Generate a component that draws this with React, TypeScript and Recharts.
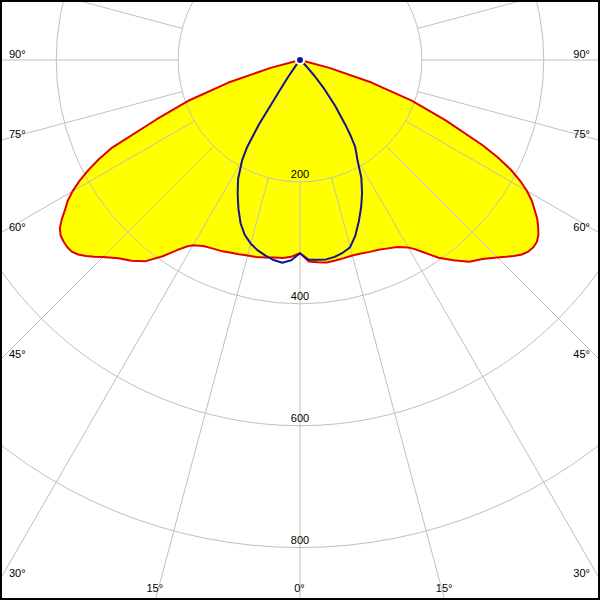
import React from 'react';
import { RadarChart, Radar, PolarGrid, PolarAngleAxis, PolarRadiusAxis } from 'recharts';

// gamma in degrees: 0 = straight down, negative = left half, positive = right half
const angles = [
  -180, -90, -80, -77.5, -75, -72.5, -70, -67.5, -65,
  -63.75, -62.5, -61.25, -60, -58.75, -57.5, -56.25, -55, -53.75, -52.5, -51.25, -50, -48.75, -47.5, -46.25, -45,
  -42.5, -40, -37.5, -35,
  -33.75, -32.5, -31.25, -30,
  -27.5, -25, -22.5, -20, -17.5, -15, -12.5, -10, -7.5, -5, -2.5,
  0,
  2.5, 5, 7.5, 10, 12.5, 15, 17.5, 20, 22.5, 25, 27.5,
  30, 31.25, 32.5, 33.75,
  35, 37.5, 40, 42.5,
  45, 46.25, 47.5, 48.75, 50, 51.25, 52.5, 53.75, 55, 56.25, 57.5, 58.75, 60, 61.25, 62.5, 63.75,
  65, 67.5, 70, 72.5, 75, 77.5, 80, 90, 180,
];

// C0-C180 plane (red outline, yellow fill), cd/klm
const planeC0 = [
  0, 0, 0, 0, 50, 123, 193, 255, 340,
  368, 392, 413, 431, 446, 457, 470, 481, 487, 489, 490, 489, 484, 476, 467, 457,
  441, 430, 416, 393,
  380, 368, 358, 351,
  344, 341, 339, 336, 334, 332, 331, 329, 327, 326, 323,
  317,
  331, 333, 335, 334, 333, 332, 333, 335, 337, 341, 346,
  355, 363, 373, 384,
  396, 414, 432, 443,
  458, 467, 476, 484, 489, 491, 490, 485, 477, 468, 456, 445, 430, 412, 390, 362,
  330, 258, 195, 123, 50, 0, 0, 0, 0,
];

// C90-C270 plane (blue outline), cd/klm
const planeC90 = [
  0, 0, 0, 0, 0, 0, 0, 0, 0,
  0, 0, 0, 0, 0, 0, 0, 0, 0, 0, 0, 0, 0, 0, 0, 0,
  0, 0, 10, 35,
  60, 125, 168, 190,
  220, 242, 264, 285, 301, 312, 320, 326, 331, 334, 329,
  317,
  328, 329, 330, 328, 324, 318, 302, 282, 262, 241, 218,
  188, 178, 168, 150,
  130, 95, 62, 35,
  15, 10, 5, 2, 0, 0, 0, 0, 0, 0, 0, 0, 0, 0, 0, 0,
  0, 0, 0, 0, 0, 0, 0, 0, 0,
];

const radiusTicks = [200, 400, 600, 800];
const angleTicks = [
  -180, -165, -150, -135, -120, -105, -90, -75, -60, -45, -30, -15,
  0, 15, 30, 45, 60, 75, 90, 105, 120, 135, 150, 165,
];

const rows = angles.map((angle, i) => ({ angle, c0: planeC0[i], c90: planeC90[i] }));

const W = 600;
const H = 600;
const CX = 300;
const CY = 60;
const MAX_CD = 1000;
const OUTER = 609.5;
const R200 = (OUTER * 200) / MAX_CD;
const FONT = "'Liberation Sans', Arial, sans-serif";
const GRID = '#c0c0c0';
const noMargin = { top: 0, right: 0, bottom: 0, left: 0 };
const labelStyle: React.CSSProperties = { fill: '#000', stroke: 'none', fontSize: 11, fontFamily: FONT };

// angle labels sit where each spoke leaves the picture
const AngleLabel = (props: any) => {
  const { payload } = props;
  const gamma = payload.value;
  if (Math.abs(gamma) > 90) return <g />;
  const deg = typeof payload.coordinate === 'number' ? payload.coordinate : gamma - 90;
  const a = (deg * Math.PI) / 180;
  const dx = Math.cos(a);
  const dy = -Math.sin(a);
  const tSide = Math.abs(dx) < 1e-9 ? Infinity : (dx < 0 ? CX : W - CX) / Math.abs(dx);
  const tBottom = dy > 1e-9 ? (H - CY) / dy : Infinity;
  const label = `${Math.abs(gamma)}°`;
  if (tSide <= tBottom) {
    const y = CY + tSide * dy;
    return (
      <text x={dx < 0 ? 9 : 590} y={y - 2.5} textAnchor={dx < 0 ? 'start' : 'end'} style={labelStyle}>{label}</text>
    );
  }
  const x = CX + tBottom * dx;
  return (
    <text x={x - 0.5} y={592} textAnchor="middle" style={labelStyle}>{label}</text>
  );
};

const RadiusLabel = ({ x, y, payload }: any) => (
  <g>
    <text x={x} y={y - 3.5} textAnchor="middle" style={labelStyle}>{payload.value}</text>
  </g>
);

const layer: React.CSSProperties = { position: 'absolute', left: 0, top: 0 };

export default function App() {
  return (
    <div style={{ position: 'absolute', left: 0, top: 0, width: W, height: H, background: '#fff', overflow: 'hidden' }}>
      {/* yellow fill of the C0-C180 plane */}
      <div style={layer}>
        <RadarChart width={W} height={H} cx={CX} cy={CY} outerRadius={OUTER} startAngle={-270} endAngle={90}
          data={rows} margin={noMargin}>
          <PolarAngleAxis dataKey="angle" type="number" domain={[-180, 180]} tick={false} axisLine={false} tickLine={false} />
          <PolarRadiusAxis type="number" domain={[0, MAX_CD]} tick={false} axisLine={false} tickLine={false} />
          <Radar dataKey="c0" fill="#ffff00" fillOpacity={1} stroke="none" isAnimationActive={false} />
        </RadarChart>
      </div>

      {/* spokes, starting at the 200 circle */}
      <div style={layer}>
        <RadarChart width={W} height={H} cx={CX} cy={CY} innerRadius={R200} outerRadius={800}
          startAngle={-270} endAngle={90} data={rows} margin={noMargin}>
          <PolarGrid gridType="circle" polarRadius={[]} stroke={GRID} strokeWidth={1} />
          <PolarAngleAxis dataKey="angle" type="number" domain={[-180, 180]} ticks={angleTicks}
            tick={AngleLabel} axisLine={false} tickLine={false} />
        </RadarChart>
      </div>

      {/* circles, radius labels and the two outlines */}
      <div style={layer}>
        <RadarChart width={W} height={H} cx={CX} cy={CY} outerRadius={OUTER} startAngle={-270} endAngle={90}
          data={rows} margin={noMargin}>
          <PolarGrid gridType="circle" radialLines={false} stroke={GRID} strokeWidth={1} />
          <PolarAngleAxis dataKey="angle" type="number" domain={[-180, 180]} tick={false} axisLine={false} tickLine={false} />
          <PolarRadiusAxis type="number" angle={-90} domain={[0, MAX_CD]} ticks={radiusTicks} stroke="#000"
            tick={RadiusLabel} axisLine={false} tickLine={false} />
          <Radar dataKey="c0" fill="none" stroke="#e00000" strokeWidth={2} strokeLinejoin="round" isAnimationActive={false} />
          <Radar dataKey="c90" fill="none" stroke="#14148c" strokeWidth={2} strokeLinejoin="round" isAnimationActive={false} />
        </RadarChart>
      </div>

      <div style={{ position: 'absolute', left: 0, top: 0, width: W, height: H, border: '2px solid #000', boxSizing: 'border-box', pointerEvents: 'none' }} />
    </div>
  );
}
